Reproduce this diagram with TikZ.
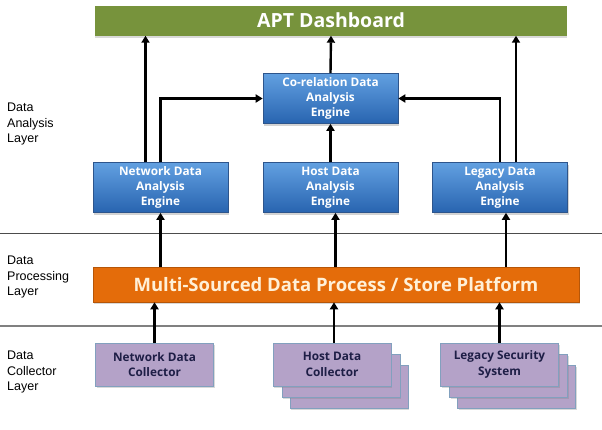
\documentclass[tikz,border=0pt]{standalone}
\usepackage{fontspec}
\setmainfont{Open Sans}
\newfontfamily\layerfont{Liberation Sans}
\usetikzlibrary{arrows.meta,shadows}

\definecolor{dashgreen}{RGB}{119,147,60}
\definecolor{engtop}{RGB}{98,160,225}
\definecolor{engbot}{RGB}{40,100,175}
\definecolor{engline}{RGB}{45,85,140}
\definecolor{platorange}{RGB}{228,108,10}
\definecolor{plattext}{RGB}{255,240,215}
\definecolor{colfill}{RGB}{180,162,200}
\definecolor{colline}{RGB}{130,160,190}
\definecolor{coltext}{RGB}{30,30,70}

\begin{document}
\begin{tikzpicture}[x=1pt,y=-1pt,
    arr/.style={line width=2.4pt, -{Triangle[length=7pt,width=8pt]}},
    engine/.style={rectangle, inner sep=0pt, minimum width=135pt, minimum height=50pt,
        top color=engtop, bottom color=engbot, draw=engline, line width=0.6pt,
        drop shadow={shadow xshift=1pt, shadow yshift=-2pt, opacity=0.35},
        text=white, font=\bfseries\fontsize{11.8}{15}\selectfont, align=center},
    collector/.style={rectangle, inner sep=0pt, minimum width=118pt, minimum height=43pt,
        fill=colfill, draw=colline, line width=1pt,
        drop shadow={shadow xshift=1pt, shadow yshift=-2pt, opacity=0.3},
        text=coltext, font=\bfseries\fontsize{11.8}{15.5}\selectfont, align=center},
    layer/.style={anchor=west, align=left, inner sep=0pt,
        font=\layerfont\fontsize{12.5}{15.5}\selectfont}]
    \useasboundingbox (0,0) rectangle (602,429);

    % Layer separators
    \draw[line width=1pt, black!70] (0,233) -- (602,233);
    \draw[line width=1.2pt, black!50] (0,326) -- (602,326);

    % Layer labels
    \node[layer] (lanalysis) at (7,124) {Data\\Analysis\\Layer};
    \node[layer] (lprocess) at (7,277) {Data\\Processing\\Layer};
    \node[layer] (lcollect) at (7,372) {Data\\Collector\\Layer};

    % Dashboard
    \node[rectangle, inner sep=0pt, minimum width=472pt, minimum height=30pt, fill=dashgreen,
        drop shadow={shadow xshift=0pt, shadow yshift=-2pt, opacity=0.3},
        text=white, font=\bfseries\fontsize{19.5}{22}\selectfont] (dash) at (331,20.5) {APT Dashboard};

    % Analysis engines
    \node[engine] (corel) at (330.5,98.5) {Co-relation Data\\Analysis\\Engine};
    \node[engine] (neteng) at (160.5,187.5) {Network Data\\Analysis\\Engine};
    \node[engine] (hosteng) at (330.5,187.5) {Host Data\\Analysis\\Engine};
    \node[engine] (legeng) at (500,187.5) {Legacy Data\\Analysis\\Engine};

    % Platform
    \node[rectangle, inner sep=0pt, minimum width=486pt, minimum height=35pt, fill=platorange,
        draw=platorange!80!black, line width=0.5pt,
        drop shadow={shadow xshift=1pt, shadow yshift=-2pt, opacity=0.3},
        text=plattext, font=\bfseries\fontsize{18.5}{20}\selectfont] (plat) at (336,284.5)
        {Multi-Sourced Data Process / Store Platform};

    % Collectors (stacked copies behind)
    \foreach \dx/\dy in {17/22, 9/11} {
        \node[collector] (hostcol\dx) at (332+\dx,364.5+\dy) {};
        \node[collector] (legcol\dx) at (499.5+\dx,364.5+\dy) {};
    }
    \node[collector] (netcol) at (154.5,364.5) {Network Data\\Collector};
    \node[collector] (hostcol) at (332,364.5) {Host Data\\Collector};
    \node[collector] (legcol) at (499.5,364.5) {Legacy Security\\System};

    % Collectors to platform
    \draw[arr] (netcol.north) -- (netcol.north |- plat.south);
    \draw[arr] ([xshift=2pt]hostcol.north) -- ([xshift=2pt]hostcol.north |- plat.south);
    \draw[arr] (legcol.north) -- (legcol.north |- plat.south);

    % Platform to engines
    \draw[arr] (neteng.south |- plat.north) -- (neteng.south);
    \draw[arr] ([xshift=5pt]hosteng.south |- plat.north) -- ([xshift=5pt]hosteng.south);
    \draw[arr] ([xshift=6pt]legeng.south |- plat.north) -- ([xshift=6pt]legeng.south);

    % Engines to co-relation engine
    \draw[arr] (neteng.north) |- (corel.west);
    \draw[arr] (hosteng.north) -- (corel.south);
    \draw[arr] (legeng.north) |- (corel.east);

    % To dashboard
    \draw[arr] ([xshift=-15pt]neteng.north) -- ([xshift=-15pt]neteng.north |- dash.south);
    \draw[arr] (corel.north) -- (dash.south);
    \draw[arr] ([xshift=16pt]legeng.north) -- ([xshift=16pt]legeng.north |- dash.south);
\end{tikzpicture}
\end{document}
